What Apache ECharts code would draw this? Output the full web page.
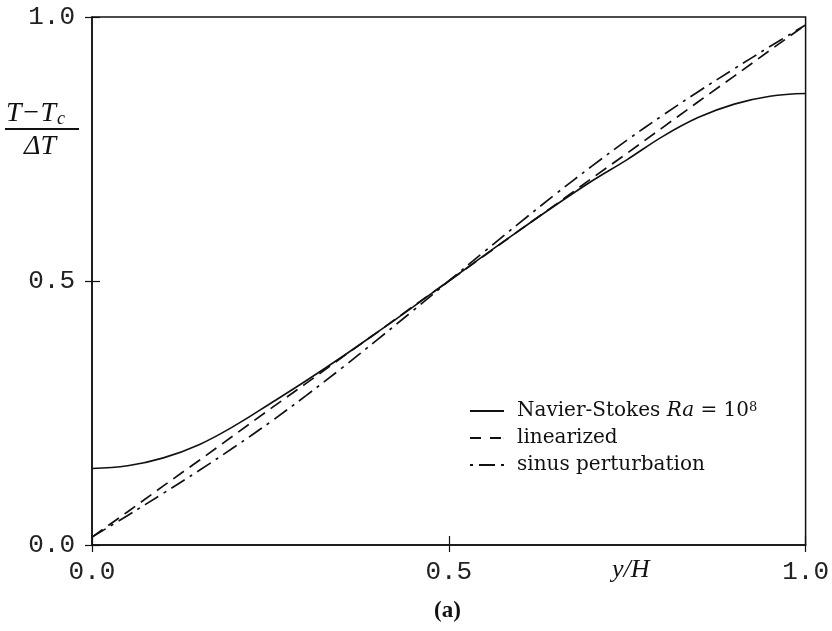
<!DOCTYPE html>
<html>
<head>
<meta charset="utf-8">
<title>Temperature profile</title>
<script src="https://cdn.jsdelivr.net/npm/echarts@6/dist/echarts.min.js"></script>
<style>
  html, body { margin: 0; padding: 0; background: #fff; }
  #chart { width: 832px; height: 631px; }
</style>
</head>
<body>
<div id="chart"></div>
<script>
// y/H positions
var yH = [0, 0.05, 0.1, 0.15, 0.2, 0.25, 0.3, 0.35, 0.4, 0.45, 0.5,
          0.55, 0.6, 0.65, 0.7, 0.75, 0.8, 0.85, 0.9, 0.95, 1.0];
// (T - Tc)/dT
var navierStokes = [0.145, 0.150, 0.165, 0.190, 0.226, 0.268, 0.311, 0.356, 0.403, 0.451, 0.500,
                    0.549, 0.597, 0.644, 0.689, 0.730, 0.774, 0.810, 0.835, 0.850, 0.855];
var linearized = [0.015, 0.063, 0.112, 0.160, 0.209, 0.258, 0.306, 0.355, 0.403, 0.452, 0.500,
                  0.548, 0.597, 0.645, 0.694, 0.742, 0.791, 0.840, 0.888, 0.937, 0.985];
var sinus = [0.015, 0.056, 0.098, 0.141, 0.186, 0.233, 0.283, 0.335, 0.389, 0.444, 0.500,
             0.556, 0.611, 0.665, 0.717, 0.767, 0.814, 0.859, 0.902, 0.944, 0.985];
var tickLabels = ['0.0', '0.5', '1.0'];

function pairs(xs, ys) {
  var out = [];
  for (var i = 0; i < xs.length; i++) out.push([xs[i], ys[i]]);
  return out;
}
function tickText(v) {
  return tickLabels[Math.round(v * 2)];
}

var chart = echarts.init(document.getElementById('chart'));
var ink = '#111';
var numFont = 'Liberation Mono';
var serif = 'DejaVu Serif';

// legend glyphs: solid, dashed, dot-dash-dot (34 x 2 boxes)
var iconSolid = 'path://M0,0h34v2h-34z';
var iconDash = 'path://M0,0h11v2h-11z M20,0h11v2h-11z M33.9,0h0.1v2h-0.1z';
var iconDashDot = 'path://M0,0h3v2h-3z M9,0h16v2h-16z M31,0h3v2h-3z';

var option = {
  backgroundColor: '#fff',
  animation: false,
  grid: { left: 92, right: 24, top: 17, bottom: 86, show: true, borderColor: ink, borderWidth: 1.5 },
  xAxis: [
    {
      type: 'value', min: 0, max: 1, interval: 0.5,
      axisLine: { show: true, lineStyle: { color: ink, width: 1.5 } },
      axisTick: { show: true, inside: true, length: 9, lineStyle: { color: ink, width: 1.2 } },
      axisLabel: { margin: 14, color: '#222', fontFamily: numFont, fontSize: 26, formatter: tickText },
      splitLine: { show: false }
    },
    {
      type: 'value', min: 0, max: 1, interval: 0.5, position: 'bottom',
      axisLine: { show: false },
      axisTick: { show: true, inside: false, length: 7, lineStyle: { color: ink, width: 1.2 } },
      axisLabel: { show: false },
      splitLine: { show: false }
    }
  ],
  yAxis: [
    {
      type: 'value', min: 0, max: 1, interval: 0.5,
      axisLine: { show: true, lineStyle: { color: ink, width: 1.5 } },
      axisTick: { show: true, inside: true, length: 8, lineStyle: { color: ink, width: 1.2 } },
      axisLabel: { margin: 17, color: '#222', fontFamily: numFont, fontSize: 26, formatter: tickText },
      splitLine: { show: false }
    },
    {
      type: 'value', min: 0, max: 1, interval: 0.5, position: 'left',
      axisLine: { show: false },
      axisTick: { show: true, inside: false, length: 7, lineStyle: { color: ink, width: 1.2 } },
      axisLabel: { show: false },
      splitLine: { show: false }
    }
  ],
  legend: {
    show: true,
    orient: 'vertical',
    left: 465, top: 396,
    itemWidth: 34, itemHeight: 2, itemGap: 7,
    itemStyle: { color: ink, borderWidth: 0 },
    textStyle: {
      color: ink, fontFamily: serif, fontSize: 20, padding: [0, 0, 0, 8],
      rich: {
        t: { fontFamily: serif, fontSize: 20, color: ink },
        i: { fontFamily: serif, fontSize: 20, fontStyle: 'italic', color: ink },
        s: { fontFamily: serif, fontSize: 13, color: ink, verticalAlign: 'top' }
      }
    },
    formatter: function (name) {
      if (name === 'Navier-Stokes') return '{t|Navier-Stokes }{i|Ra}{t| = 10}{s|8}';
      return name;
    },
    data: [
      { name: 'Navier-Stokes', icon: iconSolid },
      { name: 'linearized', icon: iconDash },
      { name: 'sinus perturbation', icon: iconDashDot }
    ]
  },
  series: [
    {
      name: 'Navier-Stokes', type: 'line', smooth: 0.4, showSymbol: false, symbol: 'none',
      data: pairs(yH, navierStokes),
      lineStyle: { color: ink, width: 1.6, type: 'solid' },
      itemStyle: { color: ink }
    },
    {
      name: 'linearized', type: 'line', smooth: false, showSymbol: false, symbol: 'none',
      data: pairs(yH, linearized),
      lineStyle: { color: ink, width: 1.7, type: [13, 7] },
      itemStyle: { color: ink }
    },
    {
      name: 'sinus perturbation', type: 'line', smooth: 0.4, showSymbol: false, symbol: 'none',
      data: pairs(yH, sinus),
      lineStyle: { color: ink, width: 1.7, type: [16, 6, 3, 6] },
      itemStyle: { color: ink }
    }
  ],
  graphic: [
    // y axis name: (T - Tc) / dT
    {
      type: 'text', left: 6, top: 100,
      style: {
        text: '{n|T−T}{c|c}',
        rich: {
          n: { fontFamily: 'Liberation Serif', fontSize: 28, fontStyle: 'italic', fill: ink },
          c: { fontFamily: 'Liberation Serif', fontSize: 18, fontStyle: 'italic', fill: ink, padding: [10, 0, 0, 1] }
        }
      }
    },
    {
      type: 'line', shape: { x1: 5, y1: 129, x2: 79, y2: 129 },
      style: { stroke: ink, lineWidth: 1.8 }
    },
    {
      type: 'text', left: 24, top: 133,
      style: { text: 'ΔT', fontFamily: 'Liberation Serif', fontSize: 28, fontStyle: 'italic', fill: ink }
    },
    // x axis name
    {
      type: 'text', left: 612, top: 557,
      style: { text: 'y/H', fontFamily: 'Liberation Serif', fontSize: 26, fontStyle: 'italic', fill: ink }
    },
    // panel label
    {
      type: 'text', left: 434, top: 600,
      style: { text: '(a)', fontFamily: 'Liberation Serif', fontSize: 23, fontWeight: 'bold', fill: ink }
    }
  ]
};

chart.setOption(option);
</script>
</body>
</html>
